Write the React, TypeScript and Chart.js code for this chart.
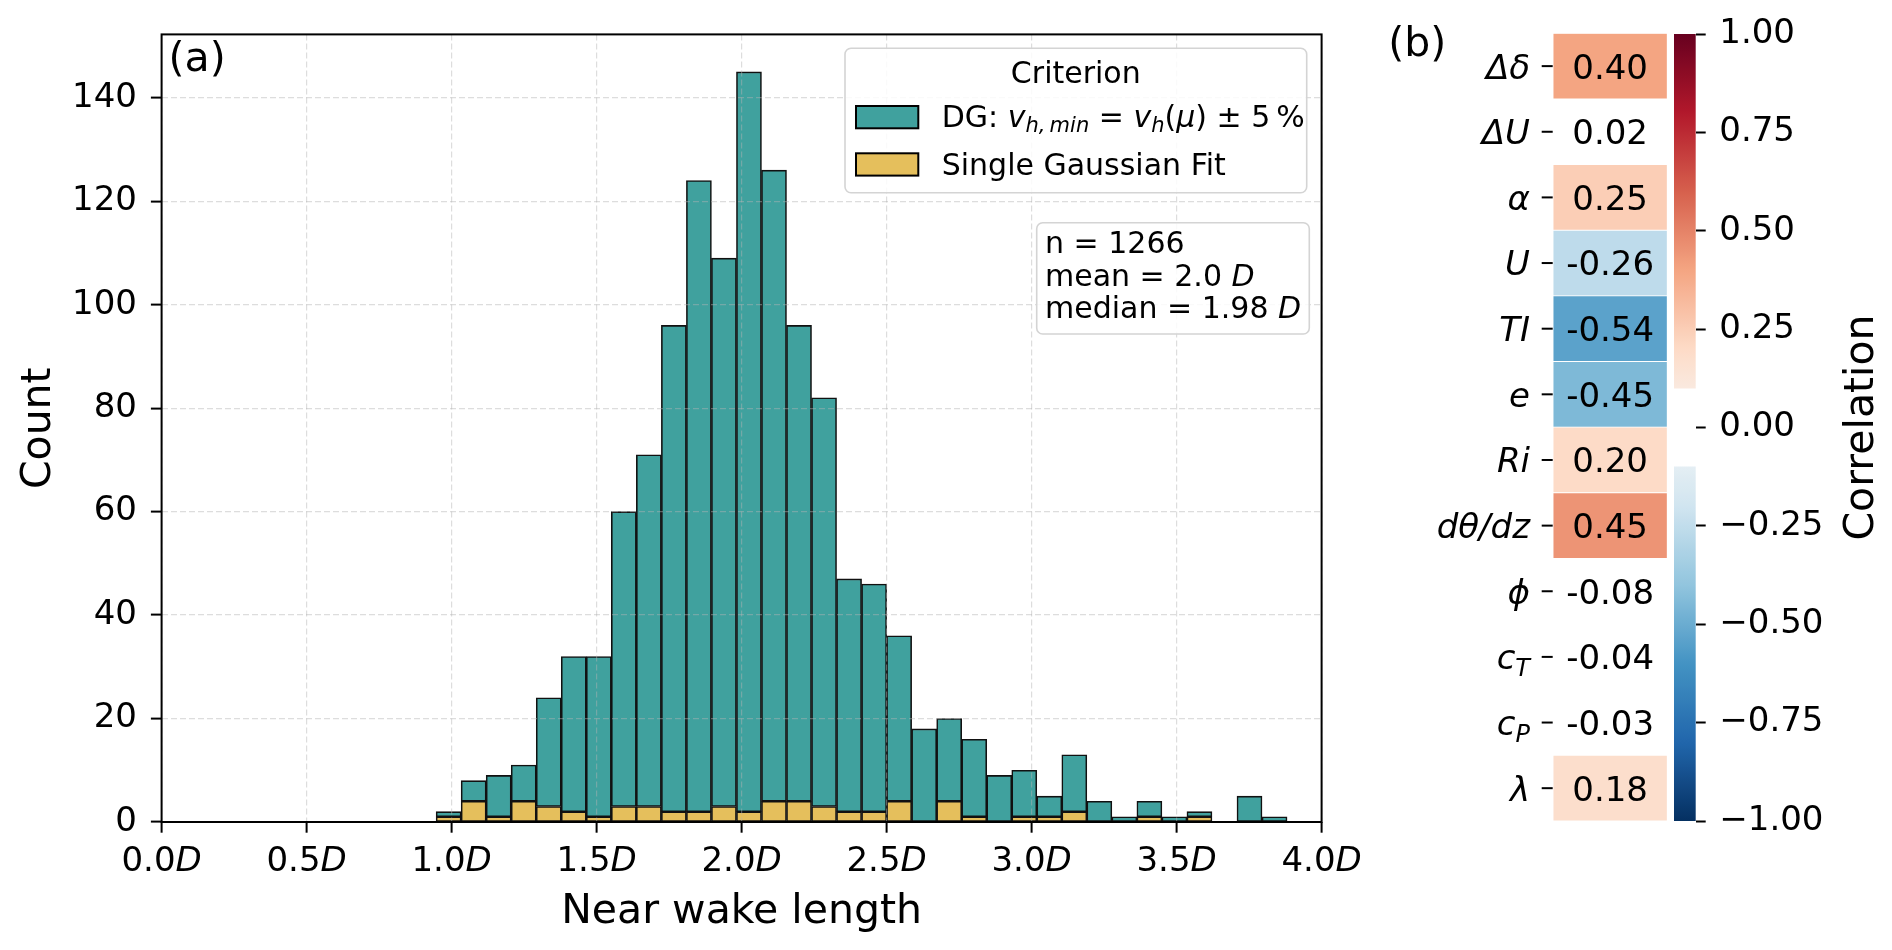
import { useEffect, useRef } from 'react';
import { Chart, registerables } from 'chart.js';

Chart.register(...registerables);

const FAMILY = '"DejaVu Sans", Verdana, sans-serif';
const font = (size: number, italic = false) => `${italic ? 'italic ' : ''}${size}px ${FAMILY}`;

// ---------- panel (a): near wake length histogram (stacked) ----------
const binCenters = [
  0.9898, 1.0761, 1.1624, 1.2487, 1.335, 1.4213, 1.5076, 1.5939, 1.6802, 1.7665, 1.8528, 1.9391,
  2.0254, 2.1117, 2.198, 2.2843, 2.3706, 2.4569, 2.5432, 2.6295, 2.7158, 2.8021, 2.8884, 2.9747,
  3.061, 3.1473, 3.2336, 3.3199, 3.4062, 3.4925, 3.5788, 3.6651, 3.7514, 3.8377,
];
const gaussCounts = [1, 4, 1, 4, 3, 2, 1, 3, 3, 2, 2, 3, 2, 4, 4, 3, 2, 2, 4, 0, 4, 1, 0, 1, 1, 2, 0, 0, 1, 0, 1, 0, 0, 0];
const dgCounts = [1, 4, 8, 7, 21, 30, 31, 57, 68, 94, 122, 106, 143, 122, 92, 79, 45, 44, 32, 18, 16, 15, 9, 9, 4, 11, 4, 1, 3, 1, 1, 0, 5, 1];
const xTickValues = [0, 0.5, 1, 1.5, 2, 2.5, 3, 3.5, 4];
const Y_MAX = 152.25;
const statsLines: [string, string][] = [
  ['n = 1266', ''],
  ['mean = 2.0 ', 'D'],
  ['median = 1.98 ', 'D'],
];

// ---------- panel (b): correlation with near wake length ----------
const corrNames = ['Δδ', 'ΔU', 'α', 'U', 'TI', 'e', 'Ri', 'dθ/dz', 'ϕ', 'c', 'c', 'λ'];
const corrSubs = ['', '', '', '', '', '', '', '', '', 'T', 'P', ''];
const corrValues = [0.4, 0.02, 0.25, -0.26, -0.54, -0.45, 0.2, 0.45, -0.08, -0.04, -0.03, 0.18];
const MASK = 0.1; // |r| below this is left blank

const TEAL = '#40a19e';
const GOLD = '#e5bf5c';
const EDGE = '#111111';
const GRID = 'rgba(180,180,180,0.45)';
const BOXLINE = '#d4d4d4';

// RdBu_r colormap anchors
const RDBU_R = ['#053061', '#2166ac', '#4393c3', '#92c5de', '#d1e5f0', '#f7f7f7', '#fddbc7', '#f4a582', '#d6604d', '#b2182b', '#67001f'];
const hex = (h: string) => [1, 3, 5].map((i) => parseInt(h.slice(i, i + 2), 16));
function cmap(v: number) {
  const t = Math.min(Math.max((v + 1) / 2, 0), 1) * (RDBU_R.length - 1);
  const i = Math.min(Math.floor(t), RDBU_R.length - 2);
  const f = t - i;
  const a = hex(RDBU_R[i]);
  const b = hex(RDBU_R[i + 1]);
  const c = a.map((x, k) => Math.round(x + (b[k] - x) * f));
  return `rgb(${c[0]},${c[1]},${c[2]})`;
}

type Run = { t: string; size: number; it?: boolean; dy?: number };
function drawRuns(ctx: CanvasRenderingContext2D, x: number, y: number, runs: Run[], align: 'left' | 'center' | 'right' = 'left') {
  ctx.textAlign = 'left';
  ctx.textBaseline = 'alphabetic';
  const widths = runs.map((r) => {
    ctx.font = font(r.size, r.it);
    return ctx.measureText(r.t).width;
  });
  const total = widths.reduce((s, w) => s + w, 0);
  let cx = align === 'left' ? x : align === 'center' ? x - total / 2 : x - total;
  runs.forEach((r, i) => {
    ctx.font = font(r.size, r.it);
    ctx.fillText(r.t, cx, y + (r.dy ?? 0));
    cx += widths[i];
  });
  return cx;
}

function box(ctx: CanvasRenderingContext2D, x0: number, y0: number, x1: number, y1: number) {
  ctx.beginPath();
  ctx.roundRect(x0, y0, x1 - x0, y1 - y0, 6);
  ctx.fillStyle = 'rgba(255,255,255,0.85)';
  ctx.fill();
  ctx.strokeStyle = BOXLINE;
  ctx.lineWidth = 1.6;
  ctx.stroke();
}

const histDecor = {
  id: 'histDecor',
  afterDraw(chart: Chart) {
    const { ctx, chartArea: a } = chart;
    const xs = chart.scales.x;
    ctx.save();
    ctx.strokeStyle = '#000';
    ctx.lineWidth = 2;
    ctx.strokeRect(a.left, a.top, a.right - a.left, a.bottom - a.top);

    ctx.fillStyle = '#000';
    for (const v of xTickValues) {
      drawRuns(ctx, xs.getPixelForValue(v), 871, [
        { t: v.toFixed(1), size: 34 },
        { t: 'D', size: 34, it: true },
      ], 'center');
    }
    drawRuns(ctx, (a.left + a.right) / 2, 922.7, [{ t: 'Near wake length', size: 41 }], 'center');

    ctx.save();
    ctx.translate(50, (a.top + a.bottom) / 2);
    ctx.rotate(-Math.PI / 2);
    drawRuns(ctx, 0, 0, [{ t: 'Count', size: 41 }], 'center');
    ctx.restore();

    drawRuns(ctx, a.left + 7, 71, [{ t: '(a)', size: 41 }]);

    // legend
    box(ctx, 845, 48.3, 1306.7, 192.7);
    ctx.fillStyle = '#000';
    drawRuns(ctx, 1075.8, 83.3, [{ t: 'Criterion', size: 30 }], 'center');
    ctx.lineWidth = 2;
    ctx.strokeStyle = '#000';
    ctx.fillStyle = TEAL;
    ctx.fillRect(856, 106, 62.3, 22.3);
    ctx.strokeRect(856, 106, 62.3, 22.3);
    ctx.fillStyle = GOLD;
    ctx.fillRect(856, 153.3, 62.3, 22.3);
    ctx.strokeRect(856, 153.3, 62.3, 22.3);
    ctx.fillStyle = '#000';
    drawRuns(ctx, 941.7, 126.7, [
      { t: 'DG: ', size: 30 },
      { t: 'v', size: 30, it: true },
      { t: 'h,\u2009min', size: 21, it: true, dy: 5 },
      { t: ' = ', size: 30 },
      { t: 'v', size: 30, it: true },
      { t: 'h', size: 21, it: true, dy: 5 },
      { t: '(', size: 30 },
      { t: 'μ', size: 30, it: true },
      { t: ')', size: 30 },
      { t: ' ± 5\u2009%', size: 30 },
    ]);
    drawRuns(ctx, 941.7, 175, [{ t: 'Single Gaussian Fit', size: 30 }]);

    // stats box
    box(ctx, 1036.7, 222.7, 1309.3, 334);
    ctx.fillStyle = '#000';
    statsLines.forEach(([txt, it], i) => {
      drawRuns(ctx, 1045, 252.7 + i * 32.8, [
        { t: txt, size: 30 },
        { t: it, size: 30, it: true },
      ]);
    });
    ctx.restore();
  },
};

function HistPanel() {
  const ref = useRef<HTMLCanvasElement>(null);
  useEffect(() => {
    if (!ref.current) return;
    const barStyle = {
      borderColor: EDGE,
      borderWidth: 1.6,
      borderSkipped: false as const,
      barPercentage: 1,
      categoryPercentage: 1,
    };
    const chart = new Chart(ref.current, {
      type: 'bar',
      data: {
        datasets: [
          { label: 'Single Gaussian Fit', data: binCenters.map((x, i) => ({ x, y: gaussCounts[i] })), backgroundColor: GOLD, ...barStyle },
          { label: 'DG', data: binCenters.map((x, i) => ({ x, y: dgCounts[i] })), backgroundColor: TEAL, ...barStyle },
        ],
      },
      options: {
        responsive: false,
        animation: false,
        layout: { padding: { left: 0, top: 32.3, right: 48.4, bottom: 0 } },
        plugins: { legend: { display: false }, tooltip: { enabled: false } },
        scales: {
          x: {
            type: 'linear',
            stacked: true,
            offset: false,
            min: 0,
            max: 4,
            ticks: { display: false, stepSize: 0.5 },
            grid: { offset: false, z: 1, color: GRID, lineWidth: 1.2, tickLength: 10.7, tickColor: '#000', tickWidth: 2 },
            border: { display: false, dash: [6, 3] },
            afterFit: (s: any) => { s.height = 128; },
          },
          y: {
            stacked: true,
            min: 0,
            max: Y_MAX,
            ticks: { stepSize: 20, includeBounds: false, color: '#000', padding: 14, font: { family: FAMILY, size: 34 } },
            grid: { z: 1, color: GRID, lineWidth: 1.2, tickLength: 10.7, tickColor: '#000', tickWidth: 2 },
            border: { display: false, dash: [6, 3] },
            afterFit: (s: any) => { s.width = 161.6; },
          },
        },
      },
      plugins: [histDecor],
    });
    return () => chart.destroy();
  }, []);
  return <canvas ref={ref} width={1370} height={950} style={{ position: 'absolute', left: 0, top: 0, width: 1370, height: 950 }} />;
}

const heatDecor = {
  id: 'heatDecor',
  afterDraw(chart: Chart) {
    const { ctx, chartArea: a } = chart;
    const ys = chart.scales.y;
    ctx.save();
    ctx.fillStyle = '#000';
    ctx.strokeStyle = '#000';
    ctx.lineWidth = 2;
    corrValues.forEach((v, i) => {
      const yc = ys.getPixelForValue(i);
      drawRuns(ctx, (a.left + a.right) / 2, yc + 12.4, [{ t: v.toFixed(2), size: 34 }], 'center');
      const runs: Run[] = [{ t: corrNames[i], size: 34, it: true }];
      if (corrSubs[i]) runs.push({ t: corrSubs[i], size: 24, it: true, dy: 7 });
      drawRuns(ctx, 160, yc + 12.4, runs, 'right');
      ctx.beginPath();
      ctx.moveTo(171.7, yc);
      ctx.lineTo(182.7, yc);
      ctx.stroke();
    });
    drawRuns(ctx, 18.3, 56, [{ t: '(b)', size: 41 }]);
    ctx.restore();
  },
};

function HeatPanel() {
  const ref = useRef<HTMLCanvasElement>(null);
  useEffect(() => {
    if (!ref.current) return;
    const chart = new Chart(ref.current, {
      type: 'bar',
      data: {
        labels: corrNames.map((n, i) => n + corrSubs[i]),
        datasets: [
          {
            data: corrValues.map(() => [0, 1] as [number, number]),
            backgroundColor: corrValues.map((v) => (Math.abs(v) < MASK ? 'rgba(0,0,0,0)' : cmap(v))),
            borderColor: corrValues.map((v) => (Math.abs(v) < MASK ? 'rgba(0,0,0,0)' : '#ffffff')),
            borderWidth: 0.8,
            borderSkipped: false,
            barPercentage: 1,
            categoryPercentage: 1,
          },
        ],
      },
      options: {
        indexAxis: 'y',
        responsive: false,
        animation: false,
        layout: { padding: { left: 183, right: 2.7, top: 33.3, bottom: 129 } },
        plugins: { legend: { display: false }, tooltip: { enabled: false } },
        scales: {
          x: { display: false, min: 0, max: 1 },
          y: { display: false },
        },
      },
      plugins: [heatDecor],
    });
    return () => chart.destroy();
  }, []);
  return <canvas ref={ref} width={300} height={950} style={{ position: 'absolute', left: 1370, top: 0, width: 300, height: 950 }} />;
}

const cbFill = (lo: number, hi: number) => (c: any) => {
  const ys = c.chart.scales.y;
  const p0 = ys ? ys.getPixelForValue(hi) : NaN;
  const p1 = ys ? ys.getPixelForValue(lo) : NaN;
  if (!isFinite(p0) || !isFinite(p1) || p0 === p1) return cmap((lo + hi) / 2);
  const g = c.chart.ctx.createLinearGradient(0, p0, 0, p1);
  const n = 60;
  for (let k = 0; k <= n; k++) g.addColorStop(k / n, cmap(hi - ((hi - lo) * k) / n));
  return g;
};

const cbDecor = {
  id: 'cbDecor',
  afterDraw(chart: Chart) {
    const { ctx, chartArea: a } = chart;
    ctx.save();
    ctx.fillStyle = '#000';
    ctx.translate(203, (a.top + a.bottom) / 2);
    ctx.rotate(-Math.PI / 2);
    drawRuns(ctx, 0, 0, [{ t: 'Correlation', size: 41 }], 'center');
    ctx.restore();
  },
};

function ColorbarPanel() {
  const ref = useRef<HTMLCanvasElement>(null);
  useEffect(() => {
    if (!ref.current) return;
    const common = { borderWidth: 0, grouped: false, barPercentage: 1, categoryPercentage: 1 };
    const chart = new Chart(ref.current, {
      type: 'bar',
      data: {
        labels: ['Correlation'],
        datasets: [
          { data: [[MASK, 1] as [number, number]], backgroundColor: cbFill(MASK, 1), ...common },
          { data: [[-1, -MASK] as [number, number]], backgroundColor: cbFill(-1, -MASK), ...common },
        ],
      },
      options: {
        responsive: false,
        animation: false,
        layout: { padding: { left: 4, right: 0, top: 32.3, bottom: 129 } },
        plugins: { legend: { display: false }, tooltip: { enabled: false } },
        scales: {
          x: { display: false },
          y: {
            position: 'right',
            min: -1,
            max: 1,
            ticks: {
              stepSize: 0.25,
              color: '#000',
              padding: 13.6,
              font: { family: FAMILY, size: 34 },
              callback: (v: any) => (Number(v) < 0 ? '\u2212' + Math.abs(Number(v)).toFixed(2) : Math.abs(Number(v)).toFixed(2)),
            },
            grid: { drawOnChartArea: false, tickLength: 10, tickColor: '#000', tickWidth: 2 },
            border: { display: false },
            afterFit: (s: any) => { s.width = 196.3; },
          },
        },
      },
      plugins: [cbDecor],
    });
    return () => chart.destroy();
  }, []);
  return <canvas ref={ref} width={222} height={950} style={{ position: 'absolute', left: 1670, top: 0, width: 222, height: 950 }} />;
}

export default function App() {
  return (
    <div style={{ position: 'absolute', left: 0, top: 0, width: 1892, height: 950, background: '#fff', overflow: 'hidden' }}>
      <HistPanel />
      <HeatPanel />
      <ColorbarPanel />
    </div>
  );
}
